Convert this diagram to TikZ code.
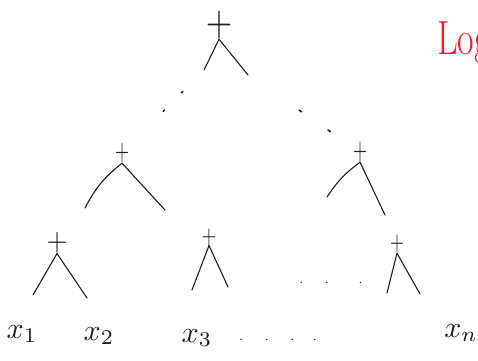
\documentclass[tikz,border=0pt]{standalone}
\usepackage{fontspec}
\usepackage{graphicx}
\usepackage{tikz}
\usetikzlibrary{positioning}
\definecolor{inkBlack}{HTML}{1e1e1e}
\definecolor{inkRed}{HTML}{e8202a}

\begin{document}
\begin{tikzpicture}[x=1pt, y=-1pt,
    plusnode/.style={inner sep=0pt, text=inkBlack},
    leafvar/.style={inner sep=1pt, text=inkBlack},
    branch/.style={draw=inkBlack, line width=1.1pt, line cap=round},
    gapdots/.style={draw=inkBlack, line width=1.5pt, line cap=round}]
    \useasboundingbox (0,0) rectangle (478,360);
    % Root of the sum tree
    \node[plusnode] (root) at (219,25) {\scalebox{3.4}[4.2]{$+$}};
    \coordinate (rootL) at (204,70);
    \coordinate (rootR) at (248,75);
    \draw[branch] (root.south) -- (rootL);
    \draw[branch] (root.south) -- (rootR);
    % Second level
    \node[plusnode] (sumL) at (122,153) {\scalebox{1.8}[3]{$+$}};
    \node[plusnode] (sumR) at (360,152) {\scalebox{1.8}[3]{$+$}};
    \coordinate (sumLa) at (85,208);
    \coordinate (sumLb) at (165,210);
    \coordinate (sumRa) at (327,197);
    \coordinate (sumRb) at (385,215);
    \draw[branch] (sumL.south) to[bend right=12] (sumLa);
    \draw[branch] (sumL.south) -- (sumLb);
    \draw[branch] (sumR.south) to[bend right=10] (sumRa);
    \draw[branch] (sumR.south) -- (sumRb);
    % Missing levels in between
    \draw[gapdots, dash pattern=on 2pt off 24pt, shorten <=30pt, shorten >=30pt] (rootL) -- (sumL);
    \draw[gapdots, dash pattern=on 3pt off 32pt, shorten <=62pt, shorten >=20pt] (rootR) -- (sumR);
    % Bottom level
    \foreach \nm/\px/\py/\sx/\sy/\ax/\ay/\bx/\by in {pA/57/243/2.7/3.1/33/295/87/298,
                                                      pB/209/237/1.9/2.5/192/290/228/287,
                                                      pC/397/244/1.8/2.7/387/293/420/294} {
      \node[plusnode] (\nm) at (\px,\py) {\scalebox{\sx}[\sy]{$+$}};
      \coordinate (\nm a) at (\ax,\ay);
      \coordinate (\nm b) at (\bx,\by);
      \draw[branch] (\nm.south) -- (\nm a);
      \draw[branch] (\nm.south) -- (\nm b);
    }
    \node[font=\Large, text=inkBlack] (midDots) at (331,283) {$\cdot\quad\;\cdot\quad\;\;\;\cdot$};
    % Inputs
    \node[leafvar] (x1) at (22,334) {\scalebox{3}{$x_1$}};
    \node[leafvar] (x2) at (99,336) {\scalebox{3}{$x_2$}};
    \node[leafvar] (x3) at (197,338) {\scalebox{3}{$x_3$}};
    \node[font=\Large, text=inkBlack] (xDots) at (278,340) {$\cdot\quad\;\cdot\quad\;\cdot\quad\;\cdot$};
    \node[leafvar] (xn) at (461,333) {\scalebox{3}{$x_n$}};
    % Side note (cut off)
    \node[text=inkRed, anchor=base west, inner sep=0pt] (note) at (437,54)
      {\scalebox{0.75}[1]{\fontsize{48}{50}\selectfont Log}};
\end{tikzpicture}
\end{document}
